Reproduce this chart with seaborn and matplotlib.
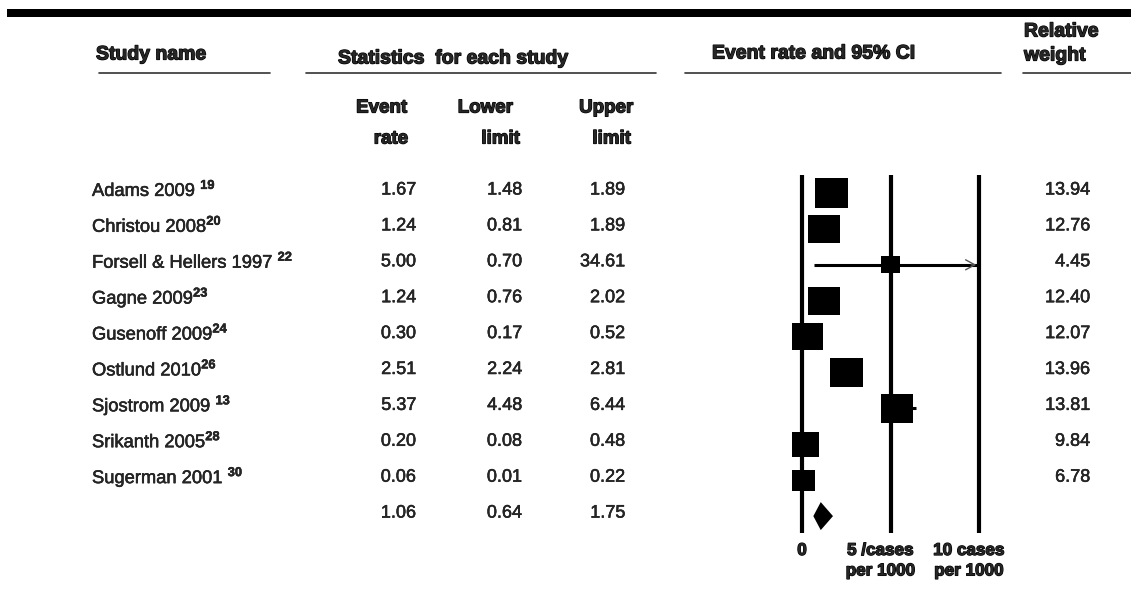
import numpy as np
import pandas as pd
import matplotlib
matplotlib.use("Agg")
import matplotlib.pyplot as plt
import matplotlib.patheffects as pe
import seaborn as sns
from matplotlib.lines import Line2D
from matplotlib.patches import Rectangle
from matplotlib.transforms import blended_transform_factory

# ---- data -------------------------------------------------------------
studies = ["Adams 2009 ", "Christou 2008", "Forsell & Hellers 1997 ", "Gagne 2009",
           "Gusenoff 2009", "Ostlund 2010", "Sjostrom 2009 ", "Srikanth 2005",
           "Sugerman 2001 "]
refs = ["19", "20", "22", "23", "24", "26", "13", "28", "30"]
event_rate = [1.67, 1.24, 5.00, 1.24, 0.30, 2.51, 5.37, 0.20, 0.06]
lower_limit = [1.48, 0.81, 0.70, 0.76, 0.17, 2.24, 4.48, 0.08, 0.01]
upper_limit = [1.89, 1.89, 34.61, 2.02, 0.52, 2.81, 6.44, 0.48, 0.22]
rel_weight = [13.94, 12.76, 4.45, 12.40, 12.07, 13.96, 13.81, 9.84, 6.78]
pooled_rate, pooled_lower, pooled_upper = 1.06, 0.64, 1.75
ref_values = [0, 5, 10]
ref_labels = ["0", "5 /cases\nper 1000", "10 cases\nper 1000"]

# ---- styling ----------------------------------------------------------
sns.set_theme(style="white")
plt.rcParams["font.family"] = ["Liberation Sans", "DejaVu Sans"]
plt.rcParams["mathtext.fontset"] = "custom"
plt.rcParams["mathtext.rm"] = "Liberation Sans"
plt.rcParams["mathtext.bf"] = "Liberation Sans:bold"

heavy = [pe.withStroke(linewidth=0.9, foreground="black")]
medium = [pe.withStroke(linewidth=0.35, foreground="black")]

W, H = 1131, 606
fig = plt.figure(figsize=(W / 100, H / 100), dpi=100)
fig.patch.set_facecolor("white")
ax = fig.add_axes([0, 0, 1, 1])

# forest scale: rate units along x, study rows along y
zero_px, unit_px = 802, 17.7
row0_px, row_px = 193, 35.9
ax.set_xlim(-zero_px / unit_px, (W - zero_px) / unit_px)
ax.set_ylim((H - row0_px) / row_px, -row0_px / row_px)
ax.axis("off")

def fx(px):
    return px / W

def fy(py):
    return 1 - py / H

row_tr = blended_transform_factory(fig.transFigure, ax.transData)
n = len(studies)
rows = np.arange(n)
x_max = ref_values[-1]

# reference lines at 0, 5 and 10 cases per 1000
ax.vlines(ref_values, -0.5, n + 0.47, color="black", lw=3, zorder=1)

# confidence intervals, clipped at the end of the scale
up_clip = np.minimum(upper_limit, x_max)
ax.hlines(rows, lower_limit, up_clip, color="black", lw=2.2, zorder=2)
for r, u in zip(rows, upper_limit):
    if u > x_max:
        ax.annotate("", xy=(x_max, r), xytext=(x_max - 0.6, r),
                    arrowprops=dict(arrowstyle="->,head_length=0.55,head_width=0.3",
                                    color="#555555", lw=1.0), zorder=3)

# study estimates: box area proportional to relative weight
box = [(-1, -0.9), (1, -0.9), (1, 0.9), (-1, 0.9), (-1, -0.9)]
df = pd.DataFrame({"rate": event_rate, "row": rows, "weight": rel_weight})
sns.scatterplot(data=df, x="rate", y="row", size="weight",
                sizes=(0, 40.6 * 15), size_norm=(0, 15), marker=box,
                color="black", linewidth=0, legend=False, ax=ax, zorder=4)

# pooled estimate diamond
pr = n
dh = 0.39
ax.fill([pooled_lower, pooled_rate, pooled_upper, pooled_rate],
        [pr, pr - dh, pr, pr + dh], color="black", lw=0, zorder=4)

# scale labels under the reference lines
for v, lab in zip(ref_values, ref_labels):
    dx = 0 if v == 0 else -10
    ax.annotate(lab, xy=(v, fy(543)), xycoords=("data", "figure fraction"),
                xytext=(dx, 0), textcoords="offset pixels",
                ha="center", va="top", fontsize=12.3, fontweight="bold",
                linespacing=1.45, path_effects=heavy)

# ---- table ------------------------------------------------------------
label_dy = -3 / row_px
for r, name, ref in zip(rows, studies, refs):
    ax.text(fx(92), r + label_dy, f"{name}$^{{\\mathbf{{{ref}}}}}$",
            transform=row_tr, ha="left", va="center", fontsize=13.2,
            path_effects=medium)

num_kw = dict(transform=row_tr, ha="right", va="center", fontsize=13,
              path_effects=medium)
for col_px, vals in [(416, event_rate), (522, lower_limit), (625, upper_limit)]:
    for r, v in zip(rows, vals):
        ax.text(fx(col_px), r + label_dy, f"{v:.2f}", **num_kw)
for col_px, v in [(416, pooled_rate), (522, pooled_lower), (625, pooled_upper)]:
    ax.text(fx(col_px), pr + label_dy, f"{v:.2f}", **num_kw)
for r, w in zip(rows, rel_weight):
    ax.text(fx(1090), r + label_dy, f"{w:.2f}", **num_kw)

# ---- headers ----------------------------------------------------------
hb = dict(fontsize=14, fontweight="bold", va="center", path_effects=heavy)
fig.text(fx(96), fy(55), "Study name", ha="left", **hb)
fig.text(fx(338), fy(59), "Statistics  for each study", ha="left", **hb)
fig.text(fx(712), fy(54), "Event rate and 95% CI", ha="left", **hb)
fig.text(fx(1024), fy(32), "Relative", ha="left", **hb)
fig.text(fx(1024), fy(56), "weight", ha="left", **hb)

sb = dict(fontsize=13.5, fontweight="bold", va="center", ha="right",
          path_effects=heavy)
fig.text(fx(407), fy(108), "Event", **sb)
fig.text(fx(408), fy(139), "rate", **sb)
fig.text(fx(513), fy(108), "Lower", **sb)
fig.text(fx(520), fy(139), "limit", **sb)
fig.text(fx(633), fy(108), "Upper", **sb)
fig.text(fx(631), fy(139), "limit", **sb)

# header rules and the heavy top bar
for x0, x1 in [(99, 270), (306, 656), (685, 1001), (1023, 1131)]:
    fig.add_artist(Line2D([fx(x0), fx(x1)], [fy(73), fy(73)],
                          color="#333333", lw=1.2, transform=fig.transFigure))
fig.add_artist(Rectangle((fx(7), fy(17)), 1, 8 / H, transform=fig.transFigure,
                         color="black", lw=0))

fig.savefig("out.png", dpi=100, facecolor="white")
